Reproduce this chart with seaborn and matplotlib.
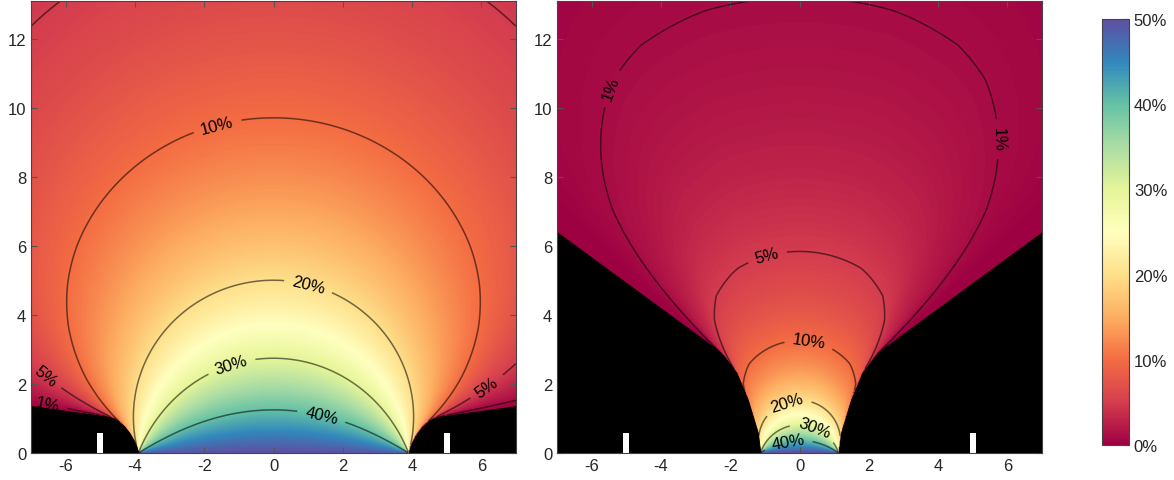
import numpy as np
import matplotlib
matplotlib.use("Agg")
import matplotlib.pyplot as plt
import seaborn as sns

# contour levels (%) and their labels
levels = [1, 5, 10, 20, 30, 40]
level_labels = ["1%", "5%", "10%", "20%", "30%", "40%"]

# aperture half width and attenuation length, one per panel
aperture = [3.9, 1.13]
atten_len = [22.0, 13.2]

# left wall profile of each panel (the right wall is its mirror image)
wall_left_x = [-7.0, -4.75, -4.6, -4.45, -4.3, -4.15, -4.03, -3.95, -3.9]
wall_left_y = [1.36, 1.05, 1.0, 0.9, 0.76, 0.57, 0.36, 0.17, 0.0]
wall_right_x = [-7.0, -2.5, -2.2, -1.82, -1.49, -1.2, -1.13]
wall_right_y = [6.4, 3.09, 2.83, 2.33, 1.54, 0.58, 0.0]

# small white slots in the walls
slot_x = [-5.0, 5.0]
slot_w = 0.18
slot_h = 0.57

# where the contour labels sit
labels_left = [(-1.63, 9.53), (1.0, 4.83), (-1.2, 2.5), (1.37, 1.02),
               (-6.63, 2.18), (-6.49, 1.57), (6.14, 1.95)]
labels_right = [(-5.38, 10.55), (5.87, 9.1), (-1.0, 5.96), (0.29, 3.34),
                (-0.38, 1.54), (0.43, 0.76), (-0.35, 0.44)]

x = np.linspace(-7, 7, 561)
y = np.linspace(0, 13.1, 525)
X, Y = np.meshgrid(x, y)


def visible_field(a, L, wx, wy):
    # angle of the aperture that is seen from each point, walls block the view
    Xm = -np.abs(X)
    Yc = np.maximum(Y, 1e-6)
    al = np.arctan2(-Yc, -a - Xm)
    ar = np.arctan2(-Yc, a - Xm)
    sx = np.linspace(wx[0], wx[-1], 300)
    sy = np.interp(sx, wx, wy)
    block = np.full(X.shape, -np.pi)
    for px, py in zip(sx, sy):
        ang = np.arctan2(py - Yc, px - Xm)
        block = np.where(px > Xm, np.maximum(block, ang), block)
    lower = np.maximum(al, block)
    vis = np.clip(ar - lower, 0, None)
    r2 = X ** 2 + Y ** 2
    z = vis / (2 * np.pi) * 100 * np.exp(-r2 / L ** 2)
    h = np.where(np.abs(X) >= a, np.interp(Xm, wx, wy), 0.0)
    return z, Y < h


sns.set_style("ticks")
plt.rcParams['font.family'] = ['Liberation Sans', 'DejaVu Sans']
plt.rcParams['axes.unicode_minus'] = False

cmap = sns.color_palette("Spectral", as_cmap=True)

fig = plt.figure(figsize=(11.74, 4.81), dpi=100)
ax1 = fig.add_axes([31 / 1174, 27 / 481, 485 / 1174, 452 / 481])
ax2 = fig.add_axes([557 / 1174, 27 / 481, 485 / 1174, 452 / 481])
cax = fig.add_axes([1102 / 1174, 35 / 481, 27 / 1174, 426 / 481])

panels = [
    (ax1, aperture[0], atten_len[0], wall_left_x, wall_left_y, labels_left),
    (ax2, aperture[1], atten_len[1], wall_right_x, wall_right_y, labels_right),
]

fmt = dict(zip(levels, level_labels))

for ax, a, L, wx, wy, lab_pos in panels:
    Z, inside = visible_field(a, L, wx, wy)
    im = ax.imshow(Z, origin="lower", extent=[-7, 7, 0, 13.1], cmap=cmap,
                   vmin=0, vmax=50, aspect="auto", interpolation="bilinear")
    Zc = np.where(inside, np.nan, Z)
    cs = ax.contour(x, y, Zc, levels=levels, colors="k", linewidths=1.1, alpha=0.55)
    texts = ax.clabel(cs, fmt=fmt, manual=lab_pos, inline=True, fontsize=12,
                      inline_spacing=8, colors="k")
    for t in texts:
        t.set_alpha(1)

    # walls, left and mirrored right
    ax.fill_between(wx, 0, wy, color="black", zorder=3, lw=0.6, edgecolor="black")
    ax.fill_between([-v for v in wx], 0, wy, color="black", zorder=3, lw=0.6,
                    edgecolor="black")
    ax.bar(slot_x, slot_h, width=slot_w, color="white", zorder=4, lw=0)

    ax.set_xlim(-7, 7)
    ax.set_ylim(0, 13.1)
    ax.set_xticks([-6, -4, -2, 0, 2, 4, 6])
    ax.set_yticks([0, 2, 4, 6, 8, 10, 12])
    ax.tick_params(direction="in", top=True, right=True, length=4,
                   color="#555555", labelsize=12)
    for s in ax.spines.values():
        s.set_color("#444444")
        s.set_linewidth(0.8)
        s.set_zorder(5)

cbar = fig.colorbar(im, cax=cax, ticks=[0, 10, 20, 30, 40, 50])
cbar.ax.set_yticklabels(["0%", "10%", "20%", "30%", "40%", "50%"])
cbar.ax.set_yticks([5, 15, 25, 35, 45], minor=True)
cbar.ax.tick_params(which="both", direction="in", length=4, color="#444444",
                    labelsize=12)
cbar.outline.set_edgecolor("#444444")
cbar.outline.set_linewidth(0.8)

fig.savefig("out.png", dpi=100)
